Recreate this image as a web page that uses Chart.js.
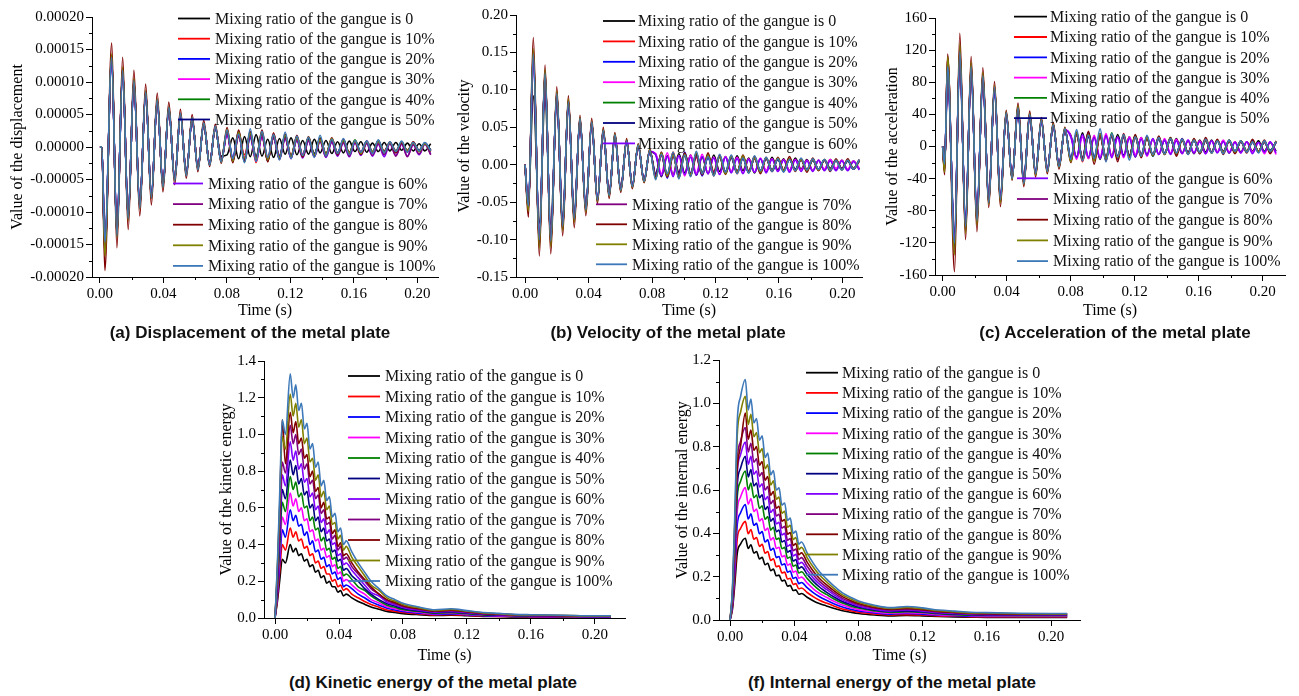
<!DOCTYPE html>
<html>
<head>
<meta charset="utf-8">
<title>Metal plate response vs gangue mixing ratio</title>
<script src="https://cdn.jsdelivr.net/npm/chart.js@4.4.1/dist/chart.umd.min.js"></script>
<style>
  body { margin: 0; background: #fff; }
  #page { position: relative; width: 1299px; height: 696px; overflow: hidden; background: #fff; }
  canvas { position: absolute; }
  .cap { position: absolute; transform: translate(-50%, -50%); white-space: nowrap;
         font: bold 17px "Liberation Sans", Arial, sans-serif; color: #111; }
</style>
</head>
<body>
<div id="page">
  <canvas id="dispChart" width="442" height="320" style="left:0;top:0"></canvas>
  <canvas id="velChart" width="430" height="320" style="left:442px;top:0"></canvas>
  <canvas id="accChart" width="427" height="320" style="left:872px;top:0"></canvas>
  <canvas id="keChart" width="450" height="326" style="left:180px;top:340px"></canvas>
  <canvas id="ieChart" width="450" height="326" style="left:636px;top:340px"></canvas>
  <div class="cap" style="left:250px;top:333px">(a) Displacement of the metal plate</div>
  <div class="cap" style="left:668px;top:333px">(b) Velocity of the metal plate</div>
  <div class="cap" style="left:1115px;top:333px">(c) Acceleration of the metal plate</div>
  <div class="cap" style="left:433px;top:683px">(d) Kinetic energy of the metal plate</div>
  <div class="cap" style="left:892px;top:683px">(f) Internal energy of the metal plate</div>
</div>
<script>
Chart.defaults.font.family = '"Liberation Serif", "Times New Roman", serif';
Chart.defaults.color = '#000';

// series names and colours (Origin defaults)
const LABELS = ['Mixing ratio of the gangue is 0', 'Mixing ratio of the gangue is 10%',
  'Mixing ratio of the gangue is 20%', 'Mixing ratio of the gangue is 30%',
  'Mixing ratio of the gangue is 40%', 'Mixing ratio of the gangue is 50%',
  'Mixing ratio of the gangue is 60%', 'Mixing ratio of the gangue is 70%',
  'Mixing ratio of the gangue is 80%', 'Mixing ratio of the gangue is 90%',
  'Mixing ratio of the gangue is 100%'];
const COLORS = ['#000000', '#ff0000', '#0000ff', '#ff00ff', '#008000', '#000080',
  '#8000ff', '#800080', '#800000', '#808000', '#3d78b8'];

// tick labels
const TIME_TICKS = [0, 0.04, 0.08, 0.12, 0.16, 0.2];
const DISP_TICKS = [-0.0002, -0.00015, -0.0001, -0.00005, 0, 0.00005, 0.0001, 0.00015, 0.0002];
const VEL_TICKS = [-0.15, -0.1, -0.05, 0, 0.05, 0.1, 0.15, 0.2];
const ACC_TICKS = [-160, -120, -80, -40, 0, 40, 80, 120, 160];
const KE_TICKS = [0, 0.2, 0.4, 0.6, 0.8, 1.0, 1.2, 1.4];
const IE_TICKS = [0, 0.2, 0.4, 0.6, 0.8, 1.0, 1.2];

// sample times (s), read at the peaks and troughs
const T_OSC = [0, 0.0012, 0.0031, 0.0074, 0.0107, 0.0143, 0.0178, 0.0214, 0.0251, 0.0288,
  0.0324, 0.0361, 0.0397, 0.0434, 0.0471, 0.0507, 0.0544, 0.0581, 0.0617, 0.0654,
  0.0691, 0.0727, 0.0764, 0.0801, 0.0837, 0.0874, 0.0911, 0.0947, 0.0984, 0.1021,
  0.1057, 0.1094, 0.1131, 0.1167, 0.1204, 0.1241, 0.1277, 0.1314, 0.1351, 0.1387,
  0.1424, 0.1461, 0.1497, 0.1534, 0.1571, 0.1607, 0.1644, 0.1681, 0.1717, 0.1754,
  0.1791, 0.1827, 0.1864, 0.1901, 0.1937, 0.1974, 0.2011, 0.2047, 0.2084];
const T_VEL = [0, 0.0021, 0.0052, 0.009, 0.0126, 0.0162, 0.02, 0.0237, 0.0273, 0.031,
  0.0346, 0.0383, 0.042, 0.0456, 0.0493, 0.053, 0.0566, 0.0603, 0.064, 0.0676,
  0.0713, 0.075, 0.0786, 0.0823, 0.0859, 0.0896, 0.0933, 0.0969, 0.1006, 0.1043,
  0.1079, 0.1116, 0.1153, 0.1189, 0.1226, 0.1263, 0.1299, 0.1336, 0.1373, 0.1409,
  0.1446, 0.1483, 0.1519, 0.1556, 0.1593, 0.1629, 0.1666, 0.1703, 0.1739, 0.1776,
  0.1813, 0.1849, 0.1886, 0.1923, 0.1959, 0.1996, 0.2033, 0.2069, 0.2106];
const T_EN = [0, 0.0015, 0.003, 0.0045, 0.0065, 0.0095, 0.0113, 0.013, 0.0148, 0.0165,
  0.0183, 0.02, 0.0218, 0.0235, 0.0253, 0.027, 0.0288, 0.0305, 0.0323, 0.034,
  0.0358, 0.0375, 0.0393, 0.041, 0.0428, 0.0445, 0.048, 0.052, 0.056, 0.06,
  0.065, 0.07, 0.075, 0.08, 0.09, 0.1, 0.11, 0.12, 0.13, 0.14,
  0.15, 0.16, 0.18, 0.2, 0.21];

// (a) displacement, in units of 1e-5
const DISP_UNIT = 1e-5;
const DISP_0 = [0,0,-15.8,13.2,-13.0,11.5,-10.5,9.8,-8.9,8.2,-7.4,7.0,-5.9,5.8,-4.9,4.9,-4.0,4.2,-3.2,3.4,-2.5,2.8,-1.4,
  -1.2,1.4,-1.8,1.6,-1.5,1.9,-1.4,1.2,-1.6,1.3,-1.1,1.4,-1.2,1.0,-1.1,1.2,-0.9,1.0,-1.0,0.8,-0.9,0.9,-0.7,0.8,-0.8,0.6,-0.7,0.7,-0.6,0.7,-0.5,0.6,-0.6,0.5,-0.6,0.5];
const DISP_10 = [0,0,-16.4,14.0,-13.6,12.1,-11.0,10.3,-9.3,8.5,-7.8,7.3,-6.1,6.1,-5.1,5.1,-4.2,4.4,-3.3,3.6,-2.6,3.1,-2.0,
  2.4,-2.0,1.6,-1.2,2.0,-2.4,1.8,-1.5,1.4,-1.7,1.9,-1.3,1.5,-1.2,1.0,-1.4,1.3,-1.0,0.9,-1.1,1.0,-0.8,0.9,-0.9,0.7,-0.8,0.8,-0.6,0.7,-0.7,0.6,-0.5,0.6,-0.6,0.5,-0.5];
const DISP_20 = [0,0,-16.0,13.7,-13.4,11.9,-10.9,10.1,-9.2,8.4,-7.7,7.2,-6.0,6.0,-5.0,5.0,-4.1,4.3,-3.3,3.5,-2.6,3.0,-2.2,
  2.2,-1.6,2.4,-2.0,1.4,-1.8,2.1,-1.9,1.6,-1.3,1.7,-1.6,1.2,-1.4,1.3,-1.1,1.2,-1.2,1.1,-0.9,1.0,-1.0,0.8,-0.9,0.9,-0.7,0.7,-0.8,0.6,-0.7,0.7,-0.6,0.5,-0.6,0.6,-0.5];
const DISP_30 = [0,0,-15.6,13.5,-13.2,11.8,-10.8,10.0,-9.1,8.3,-7.6,7.1,-5.9,5.9,-4.9,5.0,-4.1,4.3,-3.2,3.5,-2.5,3.0,-2.1,
  1.9,-2.2,2.2,-1.5,1.8,-2.1,1.5,-2.0,1.9,-1.4,1.4,-1.8,1.5,-1.1,1.2,-1.3,1.1,-1.3,1.0,-1.0,0.8,-1.1,0.9,-0.7,0.8,-0.9,0.6,-0.8,0.7,-0.6,0.5,-0.7,0.6,-0.5,0.5,-0.6];
const DISP_40 = [0,0,-16.2,13.9,-13.5,12.0,-11.0,10.2,-9.2,8.4,-7.7,7.2,-6.0,6.0,-5.0,5.0,-4.2,4.3,-3.3,3.5,-2.6,3.0,-2.2,
  2.5,-1.9,2.1,-2.3,1.7,-1.6,2.2,-2.1,1.5,-1.8,1.6,-1.4,1.6,-1.5,1.1,-1.2,1.4,-1.1,1.1,-1.2,0.9,-0.9,1.1,-0.8,0.8,-0.8,0.9,-0.7,0.6,-0.8,0.7,-0.6,0.7,-0.5,0.6,-0.5];
const DISP_50 = [0,0,-15.9,13.6,-13.3,11.9,-10.8,10.1,-9.1,8.4,-7.6,7.1,-6.0,5.9,-5.0,5.0,-4.1,4.3,-3.2,3.5,-2.6,3.0,-2.1,
  2.3,-2.1,1.8,-1.9,2.2,-1.5,1.9,-2.2,1.7,-1.5,1.5,-1.7,1.3,-1.3,1.4,-1.0,1.0,-1.3,1.2,-0.9,1.1,-1.0,0.8,-1.0,0.7,-0.9,0.8,-0.8,0.7,-0.6,0.6,-0.7,0.5,-0.6,0.6,-0.5];
const DISP_60 = [0,0,-15.5,13.4,-13.1,11.7,-10.7,9.9,-9.0,8.3,-7.6,7.0,-5.9,5.9,-4.9,4.9,-4.1,4.2,-3.2,3.4,-2.5,2.9,-2.1,
  2.0,-1.7,1.9,-2.1,1.6,-2.2,1.7,-1.8,1.3,-1.9,1.2,-1.6,1.0,-1.7,0.9,-1.5,0.8,-1.6,0.7,-1.4,0.6,-1.5,0.6,-1.3,0.5,-1.4,0.4,-1.5,0.5,-1.3,0.4,-1.4,0.3,-1.2,0.4,-1.1];
const DISP_70 = [0,0,-16.6,14.1,-13.8,12.2,-11.2,10.4,-9.4,8.6,-7.9,7.3,-6.1,6.1,-5.1,5.2,-4.2,4.4,-3.4,3.6,-2.7,3.1,-2.2,
  2.1,-2.3,1.7,-2.0,1.9,-1.8,1.6,-2.0,1.4,-1.7,1.3,-1.5,1.1,-1.6,1.0,-1.4,0.9,-1.5,0.8,-1.3,0.7,-1.4,0.7,-1.2,0.6,-1.3,0.5,-1.2,0.6,-1.4,0.5,-1.5,0.4,-1.1,0.5,-1.2];
const DISP_80 = [0,0,-19.0,16.0,-15.5,13.8,-12.7,11.8,-10.6,9.7,-8.9,8.3,-6.9,6.9,-5.8,5.8,-4.8,5.0,-3.8,4.1,-3.0,3.5,-2.5,
  3.0,-2.4,2.6,-2.2,2.4,-2.0,2.6,-2.3,2.2,-1.9,2.0,-1.6,1.8,-1.5,1.6,-1.4,1.3,-1.2,1.4,-1.1,1.2,-1.0,1.0,-1.1,0.9,-0.8,1.0,-0.9,0.8,-0.9,0.7,-0.8,0.8,-0.7,0.6,-0.7];
const DISP_90 = [0,0,-16.8,14.3,-13.9,12.3,-11.3,10.5,-9.5,8.7,-7.9,7.4,-6.2,6.2,-5.2,5.2,-4.3,4.5,-3.4,3.6,-2.7,3.1,-2.3,
  2.7,-2.2,2.3,-1.7,2.1,-1.9,2.3,-2.0,1.8,-1.6,1.8,-1.5,1.4,-1.3,1.5,-1.2,1.1,-1.1,1.3,-1.0,1.0,-0.9,0.9,-1.0,0.8,-0.7,0.8,-0.8,0.7,-0.6,0.8,-0.6,0.6,-0.7,0.5,-0.6];
const DISP_100 = [0,0,-14.6,13.8,-13.7,11.8,-11.0,10.2,-9.4,8.5,-7.8,7.3,-6.2,6.1,-5.2,5.2,-4.4,4.5,-3.5,3.7,-2.8,3.2,-2.3,
  2.6,-1.8,2.0,-2.4,2.8,-2.2,2.4,-1.6,1.9,-2.0,2.3,-1.8,1.7,-1.3,1.5,-1.6,1.8,-1.4,1.2,-1.0,1.3,-1.2,1.0,-0.8,0.9,-1.0,1.1,-0.9,0.8,-0.7,0.9,-0.8,0.7,-0.6,0.7,-0.6];

// (b) velocity, in units of 1e-3
const VEL_UNIT = 1e-3;
const VEL_0 = [0,-50,92,-78,88,-80,82,-70,76,-64,58,-55,52,-44,42,-38,36,-31,30,-27,24,-20,17,
  14,-16,12,-13,15,-11,13,-14,10,-12,13,-9,11,-10,12,-8,9,-11,8,-9,10,-7,8,-8,9,-6,7,-8,6,-7,7,-6,6,-7,5,-6];
const VEL_10 = [0,-60,150,-108,124,-106,96,-85,86,-75,62,-61,57,-48,46,-41,40,-34,32,-29,26,-22,19,
  -16,12,-14,17,-11,13,-15,10,-14,12,-9,13,-11,10,-12,9,-8,11,-10,8,-9,9,-7,8,-8,7,-6,8,-7,6,-7,6,-5,6,-6,5];
const VEL_20 = [0,-58,146,-104,121,-104,94,-84,84,-74,61,-60,56,-47,46,-41,39,-34,32,-29,26,-22,19,
  -13,16,-18,12,-14,17,-11,12,-15,10,-13,11,-12,9,-10,11,-9,8,-11,9,-7,8,-9,7,-7,8,-8,6,-7,7,-5,6,-6,5,-6,6];
const VEL_30 = [0,-57,142,-102,120,-103,93,-83,84,-73,61,-59,56,-47,45,-40,39,-33,31,-28,25,-21,18,
  15,-12,16,-14,12,-15,13,-11,14,-12,10,-13,11,-9,10,-11,8,-10,9,-8,8,-9,7,-8,7,-7,6,-8,6,-6,7,-5,6,-6,5,-5];
const VEL_40 = [0,-59,148,-106,123,-105,95,-85,85,-74,62,-60,57,-48,46,-41,40,-34,32,-29,26,-22,19,
  -17,15,-13,14,-16,12,-15,13,-11,14,-12,10,-12,11,-9,10,-11,9,-8,9,-8,7,-9,8,-7,7,-7,6,-7,6,-6,6,-6,5,-5,6];
const VEL_50 = [0,-58,144,-103,121,-104,94,-83,84,-73,61,-60,56,-47,45,-40,39,-33,31,-28,25,-21,18,
  -12,14,-15,13,-10,14,-12,15,-11,10,-13,12,-9,11,-10,8,-10,9,-8,8,-9,7,-7,8,-6,7,-7,6,-6,6,-5,6,-5,5,-5,5];
const VEL_60 = [0,-56,140,-101,119,-102,93,-83,83,-73,60,-59,55,-46,45,-40,39,-33,31,-28,25,-21,18,
  13,-15,11,-16,12,-13,10,-14,11,-12,9,-13,10,-11,8,-12,7,-10,8,-11,7,-9,6,-10,6,-9,5,-9,6,-8,5,-8,5,-8,4,-7];
const VEL_70 = [0,-61,152,-110,126,-108,97,-87,87,-76,63,-62,58,-49,47,-42,41,-35,33,-30,26,-23,20,
  -14,13,-17,11,-13,15,-12,11,-14,13,-10,11,-11,12,-9,10,-10,8,-9,9,-8,8,-8,7,-8,6,-7,7,-6,6,-6,5,-6,6,-5,5];
const VEL_80 = [0,-70,170,-122,133,-119,104,-95,92,-84,66,-68,62,-52,50,-45,43,-37,35,-32,28,-24,21,
  -18,17,-16,15,-18,16,-14,15,-13,16,-15,12,-13,12,-11,13,-10,11,-12,10,-9,10,-8,11,-9,8,-10,9,-8,7,-9,8,-7,8,-6,7];
const VEL_90 = [0,-62,155,-112,127,-110,98,-88,88,-77,63,-63,58,-49,47,-42,41,-35,33,-30,27,-23,20,
  -19,16,-15,13,-17,14,-13,16,-12,13,-14,11,-12,11,-10,12,-10,9,-10,9,-8,9,-8,8,-8,7,-8,7,-7,7,-6,6,-7,6,-5,6];
const VEL_100 = [0,-55,148,-100,122,-102,95,-82,84,-72,62,-60,57,-47,46,-41,40,-34,32,-29,26,-22,19,
  -20,14,-12,17,-19,13,-16,18,-12,11,-15,14,-10,13,-12,9,-11,12,-8,10,-9,8,-10,7,-8,9,-7,8,-6,7,-8,6,-7,6,-6,7];

// (c) acceleration
const ACC_0 = [0,-25,88,-108,104,-90,90,-84,80,-62,66,-60,38,-36,44,-40,36,-31,30,-28,25,-23,20,
  14,-13,17,-15,12,-16,14,-12,15,-11,12,-13,11,-10,9,-10,8,-9,10,-8,7,-9,8,-7,8,-7,7,-8,6,-7,6,-6,7,-6,5,-6];
const ACC_10 = [0,-30,110,-128,122,-104,102,-95,90,-70,74,-68,42,-40,49,-46,40,-35,33,-31,27,-25,22,
  -17,15,-19,13,-16,14,-18,15,-12,14,-13,11,-13,10,-11,12,-9,10,-10,8,-9,9,-8,8,-7,8,-8,7,-7,7,-6,7,-6,6,-6,6];
const ACC_20 = [0,-27,102,-122,118,-100,99,-92,87,-68,72,-66,41,-39,48,-45,39,-34,32,-30,27,-25,21,
  -15,17,-14,18,-13,16,-15,13,-16,12,-12,13,-10,12,-12,9,-10,9,-9,10,-8,8,-9,7,-7,8,-7,7,-8,6,-6,7,-6,5,-7,6];
const ACC_30 = [0,-26,98,-118,115,-98,97,-90,86,-67,71,-65,41,-39,47,-44,39,-33,32,-30,26,-24,21,
  13,-16,12,-15,14,-13,16,-12,11,-14,12,-10,11,-12,9,-10,10,-8,9,-9,8,-8,7,-9,7,-7,8,-7,6,-8,6,-7,5,-9,6,-10];
const ACC_40 = [0,-29,106,-125,120,-102,101,-94,89,-69,73,-67,42,-40,49,-45,40,-34,33,-31,27,-25,22,
  -18,16,-15,17,-14,13,-16,17,-14,13,-12,14,-11,11,-12,10,-9,11,-9,8,-9,9,-7,8,-8,7,-7,8,-6,7,-6,6,-7,6,-5,6];
const ACC_50 = [0,-27,100,-120,117,-99,98,-91,87,-68,72,-66,41,-39,48,-44,39,-34,32,-30,26,-24,21,
  -14,15,-17,12,-15,14,-13,15,-12,13,-11,12,-12,10,-10,11,-8,9,-9,9,-7,8,-8,7,-7,7,-6,7,-6,6,-6,5,-6,6,-5,5];
const ACC_60 = [0,-26,96,-116,114,-97,96,-89,85,-66,70,-64,40,-38,47,-43,38,-33,31,-29,26,-24,21,
  12,-14,15,-13,11,-15,13,-14,12,-12,10,-13,9,-11,10,-10,8,-10,7,-9,8,-8,6,-9,7,-8,6,-8,5,-8,6,-9,5,-7,6,-8];
const ACC_70 = [0,-31,112,-132,125,-106,104,-97,91,-71,75,-69,43,-40,50,-47,41,-35,34,-32,28,-26,22,
  -16,14,-13,16,-17,12,-14,13,-15,11,-13,12,-10,11,-11,10,-9,9,-8,9,-8,8,-8,7,-7,7,-7,6,-7,6,-6,6,-6,5,-6,5];
const ACC_80 = [0,-35,115,-156,141,-116,112,-106,98,-76,81,-75,45,-42,54,-50,44,-38,36,-34,30,-28,24,
  -20,18,-16,19,-22,15,-17,14,-19,16,-13,15,-14,12,-11,13,-10,11,-12,9,-10,10,-9,11,-8,9,-10,8,-9,7,-8,9,-7,8,-9,7];
const ACC_90 = [0,-32,112,-135,128,-108,105,-98,92,-72,76,-70,43,-41,51,-47,41,-36,34,-32,28,-26,23,
  -19,17,-17,15,-18,16,-15,15,-14,14,-14,12,-12,11,-11,11,-10,10,-9,9,-9,8,-8,8,-8,7,-7,7,-7,7,-6,6,-6,6,-6,6];
const ACC_100 = [0,-22,100,-120,118,-100,100,-92,88,-70,74,-66,42,-40,48,-46,40,-34,33,-31,27,-25,22,
  -16,21,-18,14,-15,22,-19,16,-13,15,-17,12,-12,14,-10,11,-9,10,-8,9,-10,8,-7,9,-8,7,-9,8,-6,7,-7,6,-8,7,-6,6];

// (d) kinetic energy
const KE_0 = [0,.09,.21,.32,.30,.40,.36,.38,.34,.35,.31,.32,.28,.29,.25,.26,.22,.23,.19,.20,.17,.17,.14,.15,.12,.13,
  .11,.09,.075,.06,.048,.036,.03,.024,.018,.014,.015,.012,.009,.008,.006,.006,.005,.004,.004];
const KE_10 = [0,.11,.26,.40,.37,.49,.44,.47,.42,.43,.38,.39,.34,.35,.30,.31,.27,.28,.24,.24,.20,.21,.17,.18,.15,.16,
  .13,.11,.09,.074,.059,.044,.037,.03,.022,.017,.018,.015,.011,.009,.008,.007,.006,.005,.005];
const KE_20 = [0,.13,.31,.48,.44,.59,.53,.56,.50,.51,.45,.47,.40,.42,.36,.37,.32,.33,.28,.29,.24,.25,.21,.22,.17,.18,
  .16,.13,.11,.088,.07,.053,.044,.035,.026,.02,.022,.018,.013,.011,.009,.008,.007,.006,.006];
const KE_30 = [0,.15,.36,.55,.51,.68,.61,.65,.58,.60,.53,.54,.47,.48,.42,.43,.37,.38,.33,.34,.28,.29,.24,.25,.20,.21,
  .18,.15,.13,.10,.082,.061,.051,.041,.031,.023,.026,.02,.015,.013,.01,.009,.008,.007,.007];
const KE_40 = [0,.17,.41,.63,.58,.77,.70,.74,.66,.68,.60,.61,.53,.55,.48,.49,.42,.44,.37,.38,.32,.33,.27,.28,.23,.24,
  .21,.17,.15,.12,.093,.07,.058,.046,.035,.026,.029,.023,.017,.015,.012,.01,.009,.008,.008];
const KE_50 = [0,.20,.46,.70,.65,.86,.78,.83,.73,.76,.67,.69,.60,.62,.53,.55,.47,.49,.42,.43,.36,.37,.31,.32,.26,.27,
  .23,.20,.16,.13,.10,.078,.065,.052,.039,.029,.033,.026,.02,.016,.013,.012,.01,.008,.008];
const KE_60 = [0,.22,.50,.78,.72,.96,.86,.91,.81,.84,.74,.76,.66,.68,.59,.61,.52,.54,.46,.48,.40,.41,.34,.35,.29,.30,
  .26,.22,.18,.14,.12,.086,.072,.058,.043,.032,.036,.029,.022,.018,.014,.013,.011,.009,.009];
const KE_70 = [0,.24,.55,.85,.79,1.05,.95,1.00,.89,.92,.81,.84,.73,.75,.65,.67,.57,.59,.51,.52,.43,.45,.37,.39,.32,.33,
  .28,.24,.20,.16,.13,.095,.079,.063,.047,.036,.04,.032,.024,.02,.016,.014,.012,.01,.01];
const KE_80 = [0,.26,.62,1.08,.84,1.12,1.01,1.07,.95,.98,.87,.89,.77,.80,.69,.71,.60,.63,.54,.55,.46,.48,.39,.41,.34,.35,
  .30,.25,.21,.17,.13,.10,.084,.067,.05,.038,.042,.034,.025,.021,.017,.015,.013,.01,.01];
const KE_90 = [0,.28,.64,.99,.92,1.22,1.10,1.17,1.04,1.08,.95,.98,.85,.87,.75,.78,.66,.69,.59,.61,.51,.52,.43,.45,.37,.39,
  .33,.28,.23,.18,.15,.11,.092,.074,.055,.041,.046,.037,.028,.023,.018,.017,.014,.011,.011];
const KE_100 = [0,.30,.70,1.08,1.00,1.33,1.20,1.27,1.13,1.17,1.03,1.06,.92,.95,.82,.85,.72,.75,.64,.66,.55,.57,.47,.49,.40,.42,
  .36,.30,.25,.20,.16,.12,.10,.08,.06,.045,.05,.04,.03,.025,.02,.018,.015,.012,.012];

// (f) internal energy
const IE_0 = [0,.05,.17,.31,.35,.377,.330,.347,.309,.316,.282,.289,.255,.262,.228,.235,.204,.207,.180,.184,.156,.160,.136,.139,.119,.122,
  .105,.088,.075,.065,.053,.043,.036,.03,.023,.019,.021,.019,.016,.014,.013,.012,.012,.012,.012];
const IE_10 = [0,.062,.205,.377,.422,.455,.398,.418,.373,.381,.340,.349,.308,.316,.275,.283,.246,.250,.217,.221,.189,.193,.164,.168,.144,.148,
  .127,.107,.09,.078,.064,.051,.043,.036,.028,.023,.025,.023,.019,.017,.015,.014,.014,.014,.014];
const IE_20 = [0,.072,.24,.442,.494,.533,.466,.490,.437,.446,.398,.408,.360,.370,.322,.331,.288,.293,.254,.259,.221,.226,.192,.197,.168,.173,
  .149,.125,.106,.091,.074,.06,.05,.042,.033,.027,.03,.027,.022,.02,.017,.016,.016,.016,.016];
const IE_30 = [0,.083,.275,.506,.567,.611,.534,.561,.501,.512,.457,.468,.413,.424,.369,.380,.330,.336,.292,.297,.253,.259,.220,.226,.193,.198,
  .171,.143,.121,.105,.085,.069,.058,.048,.037,.031,.034,.031,.025,.023,.02,.019,.018,.018,.018];
const IE_40 = [0,.093,.31,.570,.639,.688,.601,.632,.564,.577,.515,.527,.465,.477,.415,.428,.372,.378,.329,.335,.285,.291,.248,.254,.217,.223,
  .192,.161,.136,.118,.096,.078,.065,.055,.042,.035,.038,.035,.029,.025,.022,.021,.02,.02,.02];
const IE_50 = [0,.102,.34,.626,.700,.755,.660,.694,.619,.632,.564,.578,.510,.524,.456,.469,.408,.415,.360,.367,.313,.320,.272,.279,.238,.245,
  .211,.177,.150,.129,.105,.085,.071,.06,.046,.039,.042,.038,.031,.028,.024,.023,.022,.022,.022];
const IE_60 = [0,.111,.37,.681,.762,.821,.718,.755,.673,.688,.614,.629,.555,.570,.496,.511,.444,.451,.392,.400,.340,.348,.296,.303,.259,.266,
  .229,.192,.163,.141,.115,.093,.078,.065,.05,.042,.046,.041,.034,.03,.026,.025,.024,.024,.024];
const IE_70 = [0,.12,.40,.736,.824,.888,.776,.816,.728,.744,.664,.680,.600,.616,.536,.552,.480,.488,.424,.432,.368,.376,.320,.328,.280,.288,
  .248,.208,.176,.152,.124,.1,.084,.07,.054,.046,.05,.045,.037,.033,.028,.027,.026,.026,.026];
const IE_80 = [0,.13,.45,.70,.80,.955,.834,.877,.783,.800,.714,.731,.645,.662,.576,.593,.516,.525,.456,.464,.396,.404,.344,.353,.301,.310,
  .267,.224,.189,.163,.133,.108,.09,.076,.058,.049,.053,.048,.04,.035,.031,.029,.027,.027,.027];
const IE_90 = [0,.14,.465,.856,.958,1.032,.902,.949,.846,.865,.772,.791,.698,.716,.623,.642,.558,.567,.493,.502,.428,.437,.372,.381,.326,.335,
  .288,.242,.205,.177,.144,.116,.098,.082,.063,.053,.058,.052,.043,.038,.033,.032,.029,.028,.028];
const IE_100 = [0,.15,.50,.92,1.03,1.11,.97,1.02,.91,.93,.83,.85,.75,.77,.67,.69,.60,.61,.53,.54,.46,.47,.40,.41,.35,.36,
  .31,.26,.22,.19,.155,.125,.105,.088,.068,.057,.062,.056,.046,.041,.036,.034,.031,.03,.03];

const DISP = [DISP_0, DISP_10, DISP_20, DISP_30, DISP_40, DISP_50, DISP_60, DISP_70, DISP_80, DISP_90, DISP_100];
const VEL = [VEL_0, VEL_10, VEL_20, VEL_30, VEL_40, VEL_50, VEL_60, VEL_70, VEL_80, VEL_90, VEL_100];
const ACC = [ACC_0, ACC_10, ACC_20, ACC_30, ACC_40, ACC_50, ACC_60, ACC_70, ACC_80, ACC_90, ACC_100];
const KE = [KE_0, KE_10, KE_20, KE_30, KE_40, KE_50, KE_60, KE_70, KE_80, KE_90, KE_100];
const IE = [IE_0, IE_10, IE_20, IE_30, IE_40, IE_50, IE_60, IE_70, IE_80, IE_90, IE_100];

// short outward minor ticks half way between the major ones
const minorTicks = {
  id: 'minorTicks',
  afterDraw(chart) {
    const { ctx, scales: { x, y } } = chart;
    const mids = arr => arr.slice(1).map((v, i) => (v + arr[i]) / 2);
    ctx.save();
    ctx.strokeStyle = '#000';
    ctx.lineWidth = 1;
    ctx.beginPath();
    mids(x.ticks.map(t => t.value)).forEach(v => {
      const px = Math.round(x.getPixelForValue(v)) + 0.5;
      ctx.moveTo(px, x.top);
      ctx.lineTo(px, x.top + 3);
    });
    mids(y.ticks.map(t => t.value)).forEach(v => {
      const py = Math.round(y.getPixelForValue(v)) + 0.5;
      ctx.moveTo(y.right, py);
      ctx.lineTo(y.right - 3, py);
    });
    ctx.stroke();
    ctx.restore();
  }
};

// legend drawn inside the plot, possibly split into two blocks
const splitLegend = {
  id: 'splitLegend',
  afterDatasetsDraw(chart, args, opts) {
    const ctx = chart.ctx;
    ctx.save();
    ctx.font = '16px "Liberation Serif", "Times New Roman", serif';
    ctx.textBaseline = 'middle';
    opts.groups.forEach(g => {
      for (let i = g.from; i < g.to; i++) {
        const ds = chart.data.datasets[i];
        const y = g.y + (i - g.from) * g.step;
        ctx.strokeStyle = ds.borderColor;
        ctx.lineWidth = 1.8;
        ctx.beginPath();
        ctx.moveTo(g.x0, y);
        ctx.lineTo(g.x1, y);
        ctx.stroke();
        ctx.fillStyle = '#111';
        ctx.fillText(ds.label, g.tx, y + 1);
      }
    });
    ctx.restore();
  }
};

const TICK_FONT = { size: 15 };
const TITLE_FONT = { size: 16 };

function makeChart(id, o) {
  const datasets = o.series.map((vals, i) => ({
    label: LABELS[i],
    data: vals.map((v, k) => ({ x: o.times[k], y: v * o.unit })),
    borderColor: COLORS[i],
    borderWidth: 1.6,
    pointRadius: 0,
    cubicInterpolationMode: 'monotone',
    order: o.series.length - i
  }));
  return new Chart(document.getElementById(id), {
    type: 'line',
    data: { datasets },
    options: {
      responsive: false,
      animation: false,
      devicePixelRatio: 1,
      layout: { padding: { top: o.padTop, right: o.padRight, bottom: 0, left: 0 } },
      plugins: {
        legend: { display: false },
        tooltip: { enabled: false },
        splitLegend: { groups: o.legend }
      },
      scales: {
        x: {
          type: 'linear',
          min: o.xMin,
          max: o.xMax,
          afterBuildTicks: s => { s.ticks = TIME_TICKS.map(v => ({ value: v })); },
          afterFit: s => { s.height = o.xh; },
          grid: { drawOnChartArea: false, tickLength: 6, color: '#000' },
          border: { color: '#000', width: 1 },
          ticks: { font: TICK_FONT, color: '#000', maxRotation: 0, autoSkip: false, padding: 2,
                   callback: v => v.toFixed(2) },
          title: { display: true, text: 'Time (s)', font: TITLE_FONT, color: '#000',
                   padding: { top: 0, bottom: o.xTitlePad } }
        },
        y: {
          min: o.yTicks[0],
          max: o.yTicks[o.yTicks.length - 1],
          afterBuildTicks: s => { s.ticks = o.yTicks.map(v => ({ value: v })); },
          afterFit: s => { s.width = o.yw; },
          grid: { drawOnChartArea: false, tickLength: 6, color: '#000' },
          border: { color: '#000', width: 1 },
          ticks: { font: TICK_FONT, color: '#000', autoSkip: false, padding: 2,
                   callback: v => v.toFixed(o.dec) },
          title: { display: true, text: o.yTitle, font: TITLE_FONT, color: '#000',
                   padding: { top: o.yTitlePad, bottom: 0 } }
        }
      }
    },
    plugins: [minorTicks, splitLegend]
  });
}

makeChart('dispChart', {
  times: T_OSC, series: DISP, unit: DISP_UNIT, yTicks: DISP_TICKS, dec: 5,
  xMin: -0.005, xMax: 0.213, yw: 92, xh: 43, padTop: 17, padRight: 4,
  yTitle: 'Value of the displacement', yTitlePad: 8, xTitlePad: 0,
  legend: [{ from: 0, to: 6, x0: 178, x1: 210, tx: 215, y: 18.5, step: 20.2 },
           { from: 6, to: 11, x0: 173, x1: 203, tx: 208, y: 183.5, step: 20.6 }]
});

makeChart('velChart', {
  times: T_VEL, series: VEL, unit: VEL_UNIT, yTicks: VEL_TICKS, dec: 2,
  xMin: -0.0057, xMax: 0.2123, yw: 74, xh: 43, padTop: 15, padRight: 10,
  yTitle: 'Value of the velocity', yTitlePad: 13, xTitlePad: 0,
  legend: [{ from: 0, to: 7, x0: 161, x1: 193, tx: 196, y: 21, step: 20.4 },
           { from: 7, to: 11, x0: 154, x1: 185, tx: 190, y: 204.3, step: 20 }]
});

makeChart('accChart', {
  times: T_OSC, series: ACC, unit: 1, yTicks: ACC_TICKS, dec: 0,
  xMin: -0.0048, xMax: 0.214, yw: 63, xh: 45, padTop: 18, padRight: 14,
  yTitle: 'Value of the acceleration', yTitlePad: 11, xTitlePad: 0,
  legend: [{ from: 0, to: 6, x0: 142, x1: 175, tx: 178, y: 16.7, step: 20.3 },
           { from: 6, to: 11, x0: 145, x1: 176, tx: 181, y: 178.3, step: 20.7 }]
});

makeChart('keChart', {
  times: T_EN, series: KE, unit: 1, yTicks: KE_TICKS, dec: 1,
  xMin: -0.0069, xMax: 0.2188, yw: 84, xh: 48, padTop: 21, padRight: 5,
  yTitle: 'Value of the kinetic energy', yTitlePad: 37, xTitlePad: 1,
  legend: [{ from: 0, to: 11, x0: 168, x1: 200, tx: 205, y: 36, step: 20.5 }]
});

makeChart('ieChart', {
  times: T_EN, series: IE, unit: 1, yTicks: IE_TICKS, dec: 1,
  xMin: -0.0069, xMax: 0.218, yw: 83, xh: 46, padTop: 20, padRight: 6,
  yTitle: 'Value of the internal energy', yTitlePad: 37, xTitlePad: 1,
  legend: [{ from: 0, to: 11, x0: 170, x1: 202, tx: 206, y: 32.7, step: 20.2 }]
});
</script>
</body>
</html>
